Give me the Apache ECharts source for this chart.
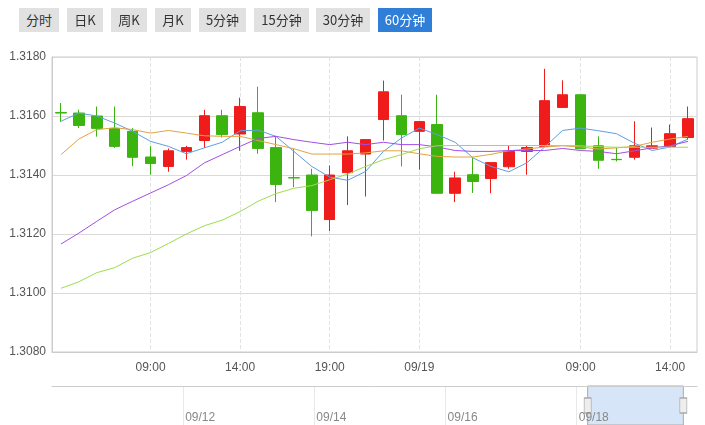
<!DOCTYPE html>
<html>
<head>
<meta charset="utf-8">
<script src="https://cdn.jsdelivr.net/npm/echarts@6/dist/echarts.min.js"></script>
<style>
html,body{margin:0;padding:0;background:#fff;}
#wrap{position:relative;width:705px;height:425px;overflow:hidden;}
#chart{position:absolute;left:0;top:0;width:705px;height:425px;}
.btns{position:absolute;left:19px;top:8px;z-index:2;height:24px;}
.btn{position:absolute;top:0;height:24px;line-height:24px;text-align:center;background:#e1e1e1;color:#333;font-family:"Noto Sans CJK SC","Liberation Sans",sans-serif;font-size:13px;}
.btn.on{background:#2f7ed8;color:#fff;}
</style>
</head>
<body>
<div id="wrap">
  <div id="chart"></div>
  <div class="btns" id="btns"></div>
</div>
<script>
// ---- data ----
const buttons = ['分时','日K','周K','月K','5分钟','15分钟','30分钟','60分钟'];
const activeButton = '60分钟';

const categories = [
  '09/18 04:00','09/18 05:00','09/18 06:00','09/18 07:00','09/18 08:00','09/18 09:00',
  '09/18 10:00','09/18 11:00','09/18 12:00','09/18 13:00','09/18 14:00','09/18 15:00',
  '09/18 16:00','09/18 17:00','09/18 18:00','09/18 19:00','09/18 20:00','09/18 21:00',
  '09/18 22:00','09/18 23:00','09/19 00:00','09/19 01:00','09/19 02:00','09/19 03:00',
  '09/19 04:00','09/19 05:00','09/19 06:00','09/19 07:00','09/19 08:00','09/19 09:00',
  '09/19 10:00','09/19 11:00','09/19 12:00','09/19 13:00','09/19 14:00','09/19 15:00'
];
const labelHours = ['00:00','09:00','14:00','19:00'];

const opens  = [1.31612,1.31610,1.31600,1.31558,1.31548,1.31461,1.31429,1.31480,1.31517,1.31601,1.31539,1.31611,
                1.31493,1.31391,1.31400,1.31249,1.31408,1.31471,1.31588,1.31601,1.31548,1.31571,1.31338,1.31401,
                1.31388,1.31428,1.31480,1.31497,1.31629,1.31672,1.31499,1.31453,1.31460,1.31491,1.31497,1.31527];
const closes = [1.31610,1.31568,1.31558,1.31497,1.31460,1.31439,1.31482,1.31493,1.31601,1.31537,1.31632,1.31490,
                1.31368,1.31390,1.31280,1.31400,1.31482,1.31520,1.31682,1.31537,1.31581,1.31338,1.31390,1.31378,
                1.31442,1.31480,1.31493,1.31652,1.31672,1.31489,1.31450,1.31452,1.31499,1.31499,1.31540,1.31591];
const lows   = [1.31580,1.31559,1.31530,1.31492,1.31430,1.31401,1.31411,1.31452,1.31492,1.31527,1.31482,1.31472,
                1.31308,1.31359,1.31192,1.31210,1.31298,1.31327,1.31517,1.31429,1.31418,1.31338,1.31308,1.31339,
                1.31338,1.31421,1.31401,1.31497,1.31629,1.31489,1.31421,1.31446,1.31452,1.31491,1.31497,1.31520];
const highs  = [1.31644,1.31621,1.31632,1.31632,1.31559,1.31498,1.31490,1.31499,1.31621,1.31621,1.31662,1.31699,
                1.31531,1.31489,1.31421,1.31432,1.31531,1.31520,1.31720,1.31672,1.31581,1.31672,1.31411,1.31458,
                1.31442,1.31499,1.31499,1.31760,1.31721,1.31672,1.31531,1.31492,1.31582,1.31561,1.31571,1.31632];

const ma5  = [1.31582,1.31610,1.31600,1.31576,1.31548,1.31514,1.31497,1.31472,1.31492,1.31511,1.31550,1.31552,
              1.31531,1.31480,1.31429,1.31393,1.31382,1.31412,1.31480,1.31525,1.31559,1.31537,1.31511,1.31458,
              1.31429,1.31411,1.31441,1.31495,1.31551,1.31559,1.31550,1.31540,1.31508,1.31483,1.31495,1.31522];
const ma10 = [1.31469,1.31522,1.31554,1.31560,1.31554,1.31542,1.31551,1.31542,1.31533,1.31531,1.31531,1.31517,
              1.31503,1.31489,1.31471,1.31471,1.31471,1.31475,1.31482,1.31482,1.31472,1.31463,1.31461,1.31461,
              1.31470,1.31482,1.31488,1.31495,1.31499,1.31495,1.31488,1.31492,1.31497,1.31511,1.31522,1.31531];
const ma20 = [1.31166,1.31203,1.31243,1.31282,1.31311,1.31339,1.31367,1.31398,1.31441,1.31469,1.31497,1.31524,
              1.31531,1.31520,1.31511,1.31503,1.31511,1.31503,1.31511,1.31503,1.31503,1.31495,1.31483,1.31480,
              1.31480,1.31483,1.31483,1.31483,1.31490,1.31483,1.31480,1.31472,1.31482,1.31492,1.31499,1.31514];
const ma30 = [1.31016,1.31038,1.31069,1.31086,1.31118,1.31137,1.31168,1.31200,1.31228,1.31247,1.31276,1.31311,
              1.31337,1.31355,1.31364,1.31384,1.31403,1.31429,1.31452,1.31469,1.31489,1.31499,1.31500,1.31500,
              1.31500,1.31500,1.31500,1.31500,1.31500,1.31499,1.31496,1.31494,1.31494,1.31494,1.31494,1.31494];

const yMin = 1.3080, yMax = 1.3180, yStep = 0.002;

// overview (hours since 09/10 00:00)
const sliderTickLabels = ['09/10','09/12','09/14','09/16','09/18'];
const sliderMax = 236, sliderStep = 48;
const sliderSelection = [196, 231];

// ---- buttons ----
const btnLeft = [0,48,92,136,180,235,297,359];
const btnWidth = [40,36,36,36,47,55,54,54];
const btnBox = document.getElementById('btns');
buttons.forEach((b,i)=>{
  const d = document.createElement('div');
  d.className = 'btn' + (b===activeButton ? ' on' : '');
  d.style.left = btnLeft[i] + 'px';
  d.style.width = btnWidth[i] + 'px';
  d.textContent = b;
  btnBox.appendChild(d);
});

// ---- chart ----
const kData = opens.map((o,i)=>[o, closes[i], lows[i], highs[i]]);
const showLabel = (i, v) => labelHours.indexOf(v.slice(6)) >= 0;
const font = '"Liberation Sans","Noto Sans CJK SC",sans-serif';

function maSeries(name, data, color){
  return {name, type:'line', data, showSymbol:false, symbol:'none', smooth:false,
    lineStyle:{width:1, color}, itemStyle:{color}, silent:true, z:3};
}

const chart = echarts.init(document.getElementById('chart'), null, {renderer:'canvas'});
chart.setOption({
  animation:false,
  backgroundColor:'#fff',
  grid:[
    {left:52, right:8, top:57, height:295, show:true, borderColor:'#ccc', borderWidth:1, backgroundColor:'transparent'},
    {left:52, right:8, top:386, height:39}
  ],
  xAxis:[
    {type:'category', data:categories, gridIndex:0, boundaryGap:true,
     axisLine:{show:true, lineStyle:{color:'#ccc'}},
     axisTick:{show:false},
     axisLabel:{interval:showLabel, color:'#555', fontSize:12, fontFamily:font, margin:10,
       formatter:(v)=> v.slice(6)==='00:00' ? v.slice(0,5) : v.slice(6)},
     splitLine:{show:true, interval:showLabel, alignWithLabel:true, lineStyle:{color:'#e2e2e2', type:'dashed', width:1}}
    },
    {type:'value', gridIndex:1, min:0, max:sliderMax, interval:sliderStep, position:'top', z:10,
     axisLine:{show:true, onZero:false, lineStyle:{color:'#ccc'}},
     axisTick:{show:false},
     axisLabel:{inside:true, margin:26, align:'left', padding:[0,0,0,2], color:'#888', fontSize:12, fontFamily:font,
       showMinLabel:false, showMaxLabel:false,
       formatter:(v)=> sliderTickLabels[Math.round(v/sliderStep)] || ''},
     splitLine:{show:true, showMinLine:false, showMaxLine:false, lineStyle:{color:'#e8e8e8', width:1}}
    }
  ],
  yAxis:[
    {type:'value', gridIndex:0, min:yMin, max:yMax, interval:yStep, scale:true,
     axisLine:{show:true, lineStyle:{color:'#ccc'}},
     axisTick:{show:false},
     axisLabel:{color:'#555', fontSize:12, fontFamily:font, margin:6, formatter:(v)=>v.toFixed(4)},
     splitLine:{show:true, lineStyle:{color:'#d9d9d9', width:1}}
    },
    {type:'value', gridIndex:1, min:0, max:1, show:false}
  ],
  series:[
    {name:'K', type:'candlestick', data:kData, barWidth:11, z:2,
     itemStyle:{color:'#f01c1c', color0:'#3cb410', borderColor:'#f01c1c', borderColor0:'#3cb410', borderWidth:1}},
    maSeries('MA5', ma5, '#5f9fe3'),
    maSeries('MA10', ma10, '#e2a441'),
    maSeries('MA20', ma20, '#a24fe6'),
    maSeries('MA30', ma30, '#9edd4e'),
    {type:'line', xAxisIndex:1, yAxisIndex:1, data:[], silent:true, z:1,
     markArea:{silent:true, itemStyle:{color:'#d6e6f8', borderColor:'#aaa', borderWidth:1},
       data:[[{xAxis:sliderSelection[0]},{xAxis:sliderSelection[1]}]]},
     markPoint:{silent:true, symbol:'rect', symbolSize:[7,15],
       itemStyle:{color:'#eeeeee', borderColor:'#aaa', borderWidth:1}, label:{show:false},
       data:[{coord:[sliderSelection[0],0.5]},{coord:[sliderSelection[1],0.5]}]}
    }
  ]
});
</script>
</body>
</html>
